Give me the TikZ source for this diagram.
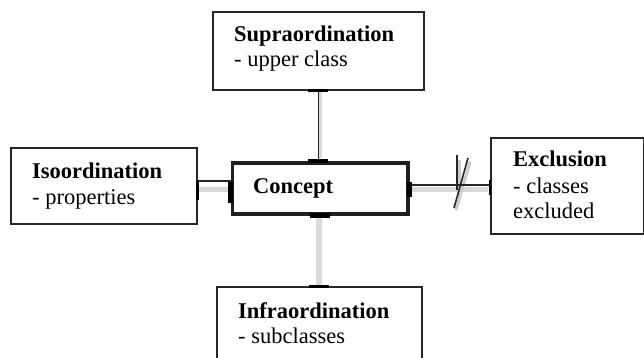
\documentclass[tikz,border=0pt]{standalone}
\usepackage{fontspec}
\setmainfont{Liberation Serif}
\begin{document}
\begin{tikzpicture}[x=1pt,y=-1pt,
  box/.style={draw=black!85, line width=1.6pt, fill=white, inner sep=0pt, anchor=north west},
  cbox/.style={draw=black!88, line width=3.5pt, fill=white, inner sep=0pt, anchor=north west},
  lbl/.style={anchor=base west, inner sep=0pt, font=\fontsize{22.5}{26}\selectfont},
  conn/.style={draw=black!85, line width=1.4pt},
  shade/.style={draw=black!15, line width=5pt},
  tick/.style={draw=black, line width=3pt}]
\useasboundingbox (0,0) rectangle (644,358);
\clip (0,0) rectangle (644,358);

% shadows of connectors (drawn first)
\draw[shade, line width=3pt] (320.5,92) -- (320.5,158);
\draw[shade] (198,189) -- (228,189);
\draw[shade] (410,189) -- (488,189);
\draw[shade, line width=6pt, draw=black!14] (319,216) -- (319,286);
\draw[draw=black!20, line width=3pt] (459,160) -- (459,198);
\draw[draw=black!20, line width=3pt] (470,162) -- (456,210);

% boxes
\node[box, minimum width=211pt, minimum height=78pt] (supra) at (212,11) {};
\node[box, minimum width=186pt, minimum height=76pt] (iso) at (10,147) {};
\node[cbox, minimum width=175.5pt, minimum height=51pt] (concept) at (230.5,161) {};
\node[box, minimum width=153pt, minimum height=96pt] (excl) at (490,137) {};
\node[box, minimum width=205pt, minimum height=90pt] (infra) at (216,286) {};

% texts
\node[lbl] (t1) at (234,42) {\textbf{Supraordination}};
\node[lbl] (t2) at (234,67) {- upper class};
\node[lbl] (t3) at (32,178) {\textbf{Isoordination}};
\node[lbl] (t4) at (32,204) {- properties};
\node[lbl] (t5) at (253,193) {\textbf{Concept}};
\node[lbl] (t6) at (513,167) {\textbf{Exclusion}};
\node[lbl] (t7) at (513,193) {- classes};
\node[lbl] (t8) at (513,218) {excluded};
\node[lbl] (t9) at (238,318) {\textbf{Infraordination}};
\node[lbl] (t10) at (238,343) {- subclasses};

% connectors
\coordinate (yic) at (0,181);
\coordinate (yce) at (0,185);
\draw[conn] (supra.south) -- (supra.south |- concept.north);
\draw[conn] (iso.east |- yic) -- (concept.west |- yic);
\draw[conn] (concept.east |- yce) -- (excl.west |- yce);

% exclusion mark
\coordinate (s1) at (457,155);
\coordinate (s2) at (457,190);
\coordinate (s3) at (468,158);
\coordinate (s4) at (454,208);
\draw[conn, line width=1.6pt] (s1) -- (s2);
\draw[conn, line width=1.6pt] (s3) -- (s4);

% ticks at connector ends
\draw[tick] ([xshift=-10pt]supra.south) -- ([xshift=10pt]supra.south);
\draw[tick, line width=4.5pt] ([xshift=-10pt]concept.north -| supra.south) -- ([xshift=10pt]concept.north -| supra.south);
\draw[tick, line width=4.5pt] ([xshift=-10pt]concept.south) -- ([xshift=10pt]concept.south);
\draw[tick] ([xshift=-10pt]infra.north) -- ([xshift=10pt]infra.north);
\draw[tick, line width=2.5pt] ([yshift=1pt]iso.east |- yic) -- ([yshift=-19pt]iso.east |- yic);
\draw[tick, line width=5pt] ([yshift=-1pt]concept.west |- yic) -- ([yshift=-22pt]concept.west |- yic);
\draw[tick, line width=5pt] ([yshift=3pt]concept.east |- yce) -- ([yshift=-12pt]concept.east |- yce);
\draw[tick, line width=2.5pt] ([yshift=5pt]excl.west |- yce) -- ([yshift=-10pt]excl.west |- yce);
\end{tikzpicture}
\end{document}
